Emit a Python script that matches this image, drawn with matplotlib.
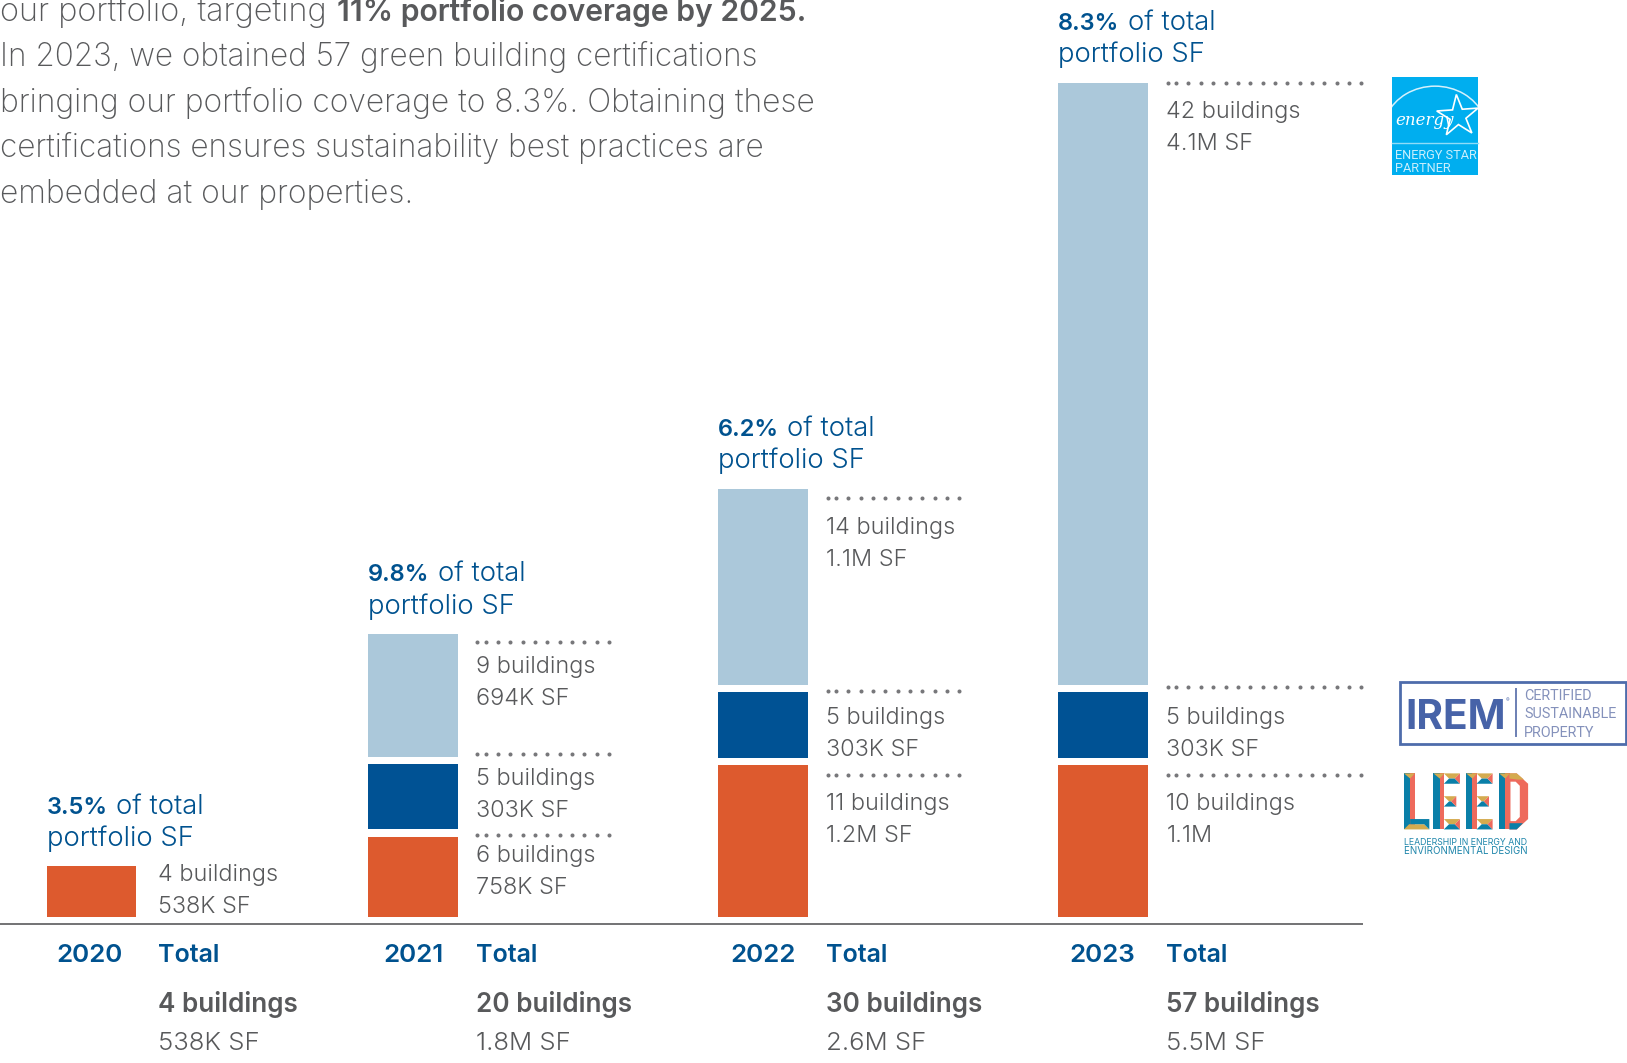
import matplotlib
matplotlib.use('Agg')
import matplotlib.pyplot as plt
from matplotlib.patches import Rectangle, Polygon, Arc
import numpy as np

BLUE = '#00528f'
GREY = '#58595b'
LIGHT = '#abc8da'
MID = '#005294'
ORANGE = '#dd5a2e'
DOT = '#77777a'
FONT = 'Inter'
NARROW = 'Roboto'

years = ['2020', '2021', '2022', '2023']
pct = ['3.5%', '9.8%', '6.2%', '8.3%']
total_buildings = ['4 buildings', '20 buildings', '30 buildings', '57 buildings']
total_sf = ['538K SF', '1.8M SF', '2.6M SF', '5.5M SF']

# bar segments per year, bottom to top
leed_h = [49, 77, 146, 146]
irem_h = [0, 63, 63, 63]
energy_h = [0, 118, 189, 580]

leed_labels = [('4 buildings', '538K SF'), ('6 buildings', '758K SF'),
               ('11 buildings', '1.2M SF'), ('10 buildings', '1.1M')]
irem_labels = [None, ('5 buildings', '303K SF'), ('5 buildings', '303K SF'), ('5 buildings', '303K SF')]
energy_labels = [None, ('9 buildings', '694K SF'), ('14 buildings', '1.1M SF'), ('42 buildings', '4.1M SF')]

body_lines = ['In 2023, we obtained 57 green building certifications',
              'bringing our portfolio coverage to 8.3%. Obtaining these',
              'certifications ensures sustainability best practices are',
              'embedded at our properties.']

# layout, in a 1568 x 1024 page
BASE = 883
GAP = 7
BAR_W = 86.5
bar_left = [45, 355, 692, 1019.5]
year_x = [86, 398.5, 735, 1062.5]
label_x = [152.5, 458.5, 796, 1124]
pct_y = [784, 560, 420, 29]
leed_y = [848.5, 830.5, 780.5, 780.5]
irem_y = [None, 756.5, 697.5, 697.5]
energy_y = [None, 648.5, 514.5, 113.5]
dot_rows = [[], [618, 726, 804], [480, 666, 747], [80, 662, 747]]
dot_end = [0, 591, 932, 1315]

fig = plt.figure(figsize=(16.27, 10.63), dpi=100)

# bars sit on their own axes with y counted up from the baseline
ax_bars = fig.add_axes([0, 0, 1, 1])
ax_bars.set_xlim(0, 1568)
ax_bars.set_ylim(BASE - 1024, BASE)
ax_bars.axis('off')

bottom = np.zeros(4)
for heights, color in [(leed_h, ORANGE), (irem_h, MID), (energy_h, LIGHT)]:
    h = np.array(heights, dtype=float)
    ax_bars.bar(bar_left, h, width=BAR_W, bottom=bottom, color=color, align='edge', linewidth=0)
    bottom = bottom + h + GAP

# everything else is placed in page coordinates
ax = fig.add_axes([0, 0, 1, 1])
ax.set_xlim(0, 1568)
ax.set_ylim(1024, 0)
ax.axis('off')
ax.patch.set_alpha(0)
renderer = fig.canvas.get_renderer()


def txt(x, y, s, size=17, color=GREY, weight=300, family=FONT, **kw):
    return ax.text(x, y, s, fontsize=size, color=color, fontweight=weight, family=family,
                   va='baseline', **kw)


def right_edge(t):
    return t.get_window_extent(renderer).transformed(ax.transData.inverted()).x1


# intro paragraph, its first line runs off the top of the page
txt(0, 20.5, 'our portfolio, targeting', 23.4, GREY, 200)
txt(324.5, 20.5, '11% portfolio coverage by 2025.', 21.7, GREY, 600)
body_sizes = [22.65, 22.9, 22.75, 22.9]
for i, line in enumerate(body_lines):
    txt(0, 63.7 + i * 44, line, body_sizes[i], GREY, 200)

ax.plot([0, 1314], [890, 890], color='#5a5a5c', lw=1.2, solid_capstyle='butt')

for i in range(4):
    t = txt(bar_left[i], pct_y[i], pct[i], 17, BLUE, 600)
    txt(right_edge(t) + 8, pct_y[i], 'of total', 19.8, BLUE, 300)
    txt(bar_left[i], pct_y[i] + 31, 'portfolio SF', 19.8, BLUE, 300)

    txt(year_x[i], 927, years[i], 18.7, BLUE, 600, ha='center')
    txt(label_x[i], 927, 'Total', 18, BLUE, 600)
    txt(label_x[i], 975, total_buildings[i], 18.8, GREY, 600)
    txt(label_x[i], 1011, total_sf[i], 18.5, GREY, 300)

    for labels, ys in [(leed_labels, leed_y), (irem_labels, irem_y), (energy_labels, energy_y)]:
        if labels[i] is not None:
            txt(label_x[i], ys[i], labels[i][0], 16.9)
            txt(label_x[i], ys[i] + 31, labels[i][1], 16.9)

    # dotted leaders, the first two dots sit a little closer together
    for y in dot_rows[i]:
        xs = np.arange(label_x[i] + 9.5 + 11.9, dot_end[i], 11.9)
        xs = np.concatenate([[label_x[i] + 1.5, label_x[i] + 9.5], xs])
        ax.plot(xs, [y] * len(xs), ls='none', marker='o', ms=2.9, mfc=DOT, mec='none')

# ENERGY STAR badge
badge = Rectangle((1341.5, 74), 83, 94.5, fc='#00aeef', ec='none')
ax.add_patch(badge)
arc = Arc((1383, 127), 100, 88, theta1=200, theta2=340, color='#d5f1fc', lw=1.1)
ax.add_patch(arc)
arc.set_clip_path(badge)
ax.plot([1341.5, 1424.5], [137.5, 137.5], color='#8fdcf8', lw=1)
ang = np.radians(np.arange(10) * 36 - 90 - 4)
rad = np.where(np.arange(10) % 2 == 0, 21, 8)
star_pts = np.column_stack([1405 + rad * np.cos(ang), 112 + rad * np.sin(ang)])
ax.add_patch(Polygon(star_pts, closed=True, fc='none', ec='white', lw=1.2))
txt(1345, 120, 'energy', 12, 'white', 400, 'DejaVu Serif', style='italic')
txt(1344, 153, 'ENERGY STAR', 9.2, '#c9eefc', 400, NARROW)
txt(1344, 166, 'PARTNER', 9.2, '#c9eefc', 400, NARROW)

# IREM badge
ax.add_patch(Rectangle((1349, 657), 218, 60, fc='white', ec='#4e6cab', lw=2))
txt(1354, 702, 'IREM', 29.3, '#4763a8', 700)
txt(1451.5, 677, '®', 4, '#4763a8', 400)
ax.plot([1461, 1461], [664, 709], color='#6b7fb3', lw=1.4)
for y, s in [(674, 'CERTIFIED'), (692, 'SUSTAINABLE'), (710, 'PROPERTY')]:
    txt(1469, y, s, 10.4, '#8491bb', 400, NARROW)

# LEED wordmark
TEAL, GOLD, CORAL = '#0a7fa8', '#d4ab4f', '#ee6a5c'
TOP, BOT = 745, 799


def arm(x, y, x1, color_top=GOLD):
    # one horizontal stroke of a bevelled letter
    ax.add_patch(Polygon([(x, y), (x1, y), (x1 - 5, y + 5), (x + 5, y + 5)], fc=color_top, ec='none'))
    ax.add_patch(Polygon([(x + 5, y + 5), (x1 - 5, y + 5), (x1, y + 10), (x, y + 10)], fc=TEAL, ec='none'))
    ax.add_patch(Polygon([(x1, y), (x1, y + 10), (x1 - 5, y + 5)], fc=CORAL, ec='none'))


def stem(x):
    ax.add_patch(Rectangle((x, TOP), 6, BOT - TOP, fc=TEAL, ec='none'))
    ax.add_patch(Rectangle((x + 6, TOP), 4.5, BOT - TOP, fc=CORAL, ec='none'))
    ax.add_patch(Polygon([(x, TOP), (x + 10.5, TOP), (x + 6, TOP + 5)], fc=GOLD, ec='none'))


stem(1353)
ax.add_patch(Polygon([(1353, BOT), (1377.5, BOT), (1372.5, BOT - 5), (1358, BOT - 5)], fc=GOLD, ec='none'))
ax.add_patch(Polygon([(1359, BOT - 5), (1372.5, BOT - 5), (1377.5, BOT), (1377.5, BOT - 10), (1359, BOT - 10)], fc=TEAL, ec='none'))
for x in (1381.5, 1413):
    stem(x)
    arm(x + 10, TOP, x + 25.5)
    arm(x + 10, TOP + 22, x + 22)
    arm(x + 10, BOT - 10, x + 25.5)
# D: coral outer bowl, then gold and teal facing, then the white counter
d_x = 1444.7
stem(d_x)
ax.add_patch(Polygon([(d_x + 10, TOP), (d_x + 17, TOP), (d_x + 28, TOP + 10), (d_x + 28, BOT - 10),
                      (d_x + 17, BOT), (d_x + 10, BOT)], fc=CORAL, ec='none'))
ax.add_patch(Polygon([(d_x + 10, TOP), (d_x + 17, TOP), (d_x + 24, TOP + 6), (d_x + 18, TOP + 6), (d_x + 10, TOP + 5)], fc=GOLD, ec='none'))
ax.add_patch(Polygon([(d_x + 10, BOT), (d_x + 17, BOT), (d_x + 23, BOT - 6), (d_x + 10, BOT - 6)], fc=TEAL, ec='none'))
ax.add_patch(Polygon([(d_x + 11, TOP + 8), (d_x + 16, TOP + 8), (d_x + 20, TOP + 12), (d_x + 20, BOT - 12),
                      (d_x + 16, BOT - 8), (d_x + 11, BOT - 8)], fc='white', ec='none'))
txt(1353, 814, 'LEADERSHIP IN ENERGY AND', 6.3, '#1f86ab', 400)
txt(1353, 823, 'ENVIRONMENTAL DESIGN', 7.0, '#1f86ab', 400)

fig.savefig('out.png', dpi=100)
